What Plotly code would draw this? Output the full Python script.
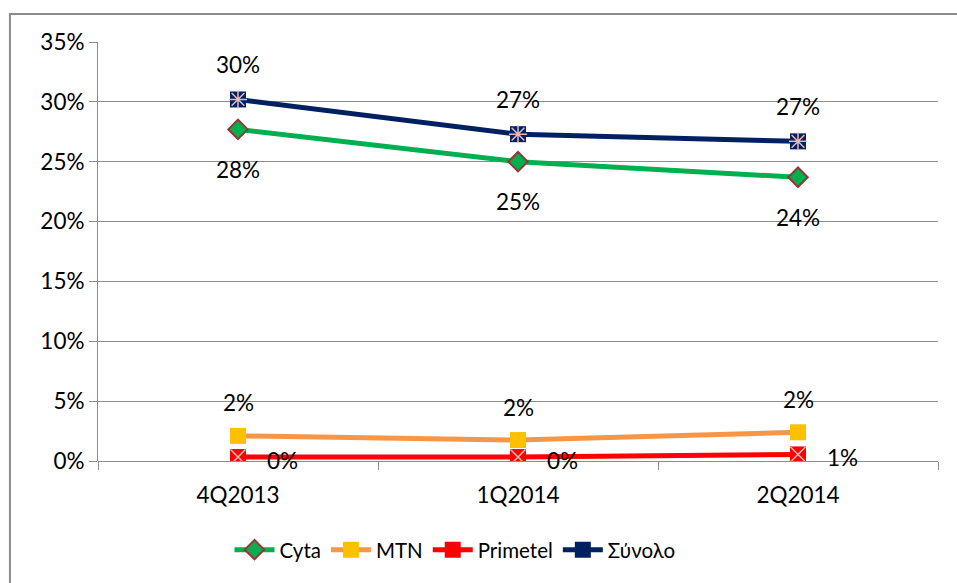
import plotly.graph_objects as go

categories = ["4Q2013", "1Q2014", "2Q2014"]
cyta = [27.7, 25.0, 23.7]
mtn = [2.1, 1.75, 2.4]
primetel = [0.33, 0.33, 0.55]
synolo = [30.2, 27.3, 26.7]
y_ticks = [0, 5, 10, 15, 20, 25, 30, 35]
y_tick_labels = ["0%", "5%", "10%", "15%", "20%", "25%", "30%", "35%"]

FONT = "Lato, Carlito, Calibri, sans-serif"
PINK = "#E6B9B8"

fig = go.Figure()

fig.add_trace(go.Scatter(
    x=categories, y=cyta, name="Cyta", mode="lines+markers",
    line=dict(color="#00B050", width=5),
    marker=dict(symbol="diamond", size=15, color="#00B050",
                line=dict(color="#953735", width=2)),
))
fig.add_trace(go.Scatter(
    x=categories, y=mtn, name="MTN", mode="lines+markers",
    line=dict(color="#F79646", width=5),
    marker=dict(symbol="square", size=16, color="#FFC000",
                line=dict(color="#FFC000", width=0)),
))
fig.add_trace(go.Scatter(
    x=categories, y=primetel, name="Primetel", mode="lines+markers",
    line=dict(color="#FF0000", width=5),
    marker=dict(symbol="square", size=16, color="#FF0000",
                line=dict(color="#FF0000", width=0)),
))
fig.add_trace(go.Scatter(
    x=categories, y=primetel, mode="markers", showlegend=False, hoverinfo="skip",
    marker=dict(symbol="x-thin-open", size=15, color=PINK,
                line=dict(color=PINK, width=1.5)),
))
fig.add_trace(go.Scatter(
    x=categories, y=synolo, name="Σύνολο", mode="lines+markers",
    line=dict(color="#002060", width=5),
    marker=dict(symbol="square", size=16, color="#002060",
                line=dict(color="#002060", width=0)),
))
fig.add_trace(go.Scatter(
    x=categories, y=synolo, mode="markers", showlegend=False, hoverinfo="skip",
    marker=dict(symbol="asterisk-open", size=15, color=PINK,
                line=dict(color=PINK, width=1.5)),
))

annotations = []
def add_labels(vals, xshift, yshift):
    for c, v in zip(categories, vals):
        annotations.append(dict(
            x=c, y=v, xref="x", yref="y", text=f"{round(v):.0f}%",
            showarrow=False, xshift=xshift, yshift=yshift,
            font=dict(family=FONT, size=22.5, color="#000000"),
            xanchor="center", yanchor="middle",
        ))

add_labels(synolo, 0, 35)
add_labels(cyta, 0, -40)
add_labels(mtn, 0, 33)
add_labels(primetel, 44, -3)

fig.update_layout(
    width=957, height=583,
    margin=dict(l=98, r=19, t=42, b=122),
    paper_bgcolor="white", plot_bgcolor="white",
    font=dict(family=FONT, size=22.5, color="#000000"),
    showlegend=True,
    legend=dict(orientation="h", x=0.425, xanchor="center", y=-0.212, yanchor="middle",
                font=dict(family=FONT, size=20.5, color="#000000"),
                itemwidth=40, tracegroupgap=0),
    annotations=annotations,
    shapes=[dict(type="rect", xref="paper", yref="paper",
                 x0=-0.1048, x1=1.06, y0=-0.35, y1=1.0668,
                 line=dict(color="#8C8C8C", width=2), layer="below")],
)

fig.update_xaxes(
    type="category", range=[-0.5, 2.5],
    tickson="boundaries", ticks="outside", ticklen=8, tickcolor="#8C8C8C",
    showline=False, showgrid=False, zeroline=False,
    tickfont=dict(family=FONT, size=22.5), ticklabelstandoff=18,
)
fig.update_yaxes(
    range=[0, 35], tickvals=y_ticks, ticktext=y_tick_labels,
    ticks="outside", ticklen=8, tickcolor="#8C8C8C",
    showgrid=True, gridcolor="#8C8C8C", gridwidth=1,
    showline=True, linecolor="#8C8C8C", linewidth=1,
    zeroline=True, zerolinecolor="#8C8C8C", zerolinewidth=1,
    tickfont=dict(family=FONT, size=22.5),
)

fig.write_html("out.html", config={"displayModeBar": False},
               post_script="document.body.style.margin='0';")
